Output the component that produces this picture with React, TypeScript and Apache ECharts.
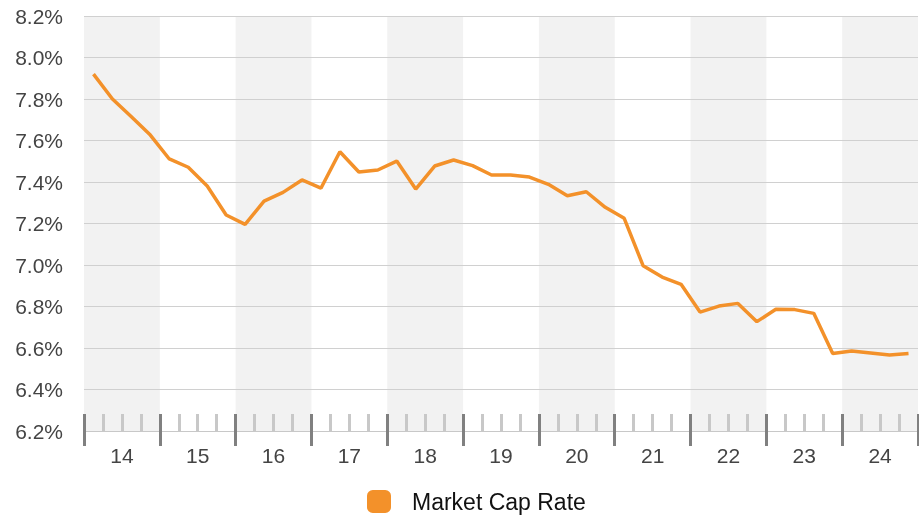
import React, { useEffect, useRef } from "react";
import * as echarts from "echarts";

const years = ["14", "15", "16", "17", "18", "19", "20", "21", "22", "23", "24"];
const quarters: string[] = [];
years.forEach((y) => ["Q1", "Q2", "Q3", "Q4"].forEach((q) => quarters.push(y + q)));

const capRate = [
  7.92, 7.8, 7.714, 7.626, 7.511, 7.471, 7.381, 7.241,
  7.196, 7.308, 7.35, 7.41, 7.37, 7.546, 7.448, 7.458,
  7.501, 7.366, 7.477, 7.506, 7.479, 7.434, 7.434, 7.424,
  7.389, 7.334, 7.353, 7.278, 7.225, 6.996, 6.942, 6.907,
  6.773, 6.802, 6.815, 6.727, 6.787, 6.785, 6.767, 6.574,
  6.586, 6.576, 6.566, 6.573,
];

const yMin = 6.2;
const yMax = 8.2;
const yStep = 0.2;

const FONT = "Liberation Sans, Arial, Helvetica, sans-serif";

export default function App() {
  const ref = useRef<HTMLDivElement>(null);
  useEffect(() => {
    if (!ref.current) return;
    const chart = echarts.init(ref.current, undefined, { renderer: "svg" });
    chart.setOption({
      animation: false,
      textStyle: { fontFamily: FONT },
      grid: { left: 84, right: 1, top: 16, bottom: 87, outerBoundsMode: "none" },
      legend: {
        data: ["Market Cap Rate"],
        left: 367,
        top: 490,
        padding: 0,
        icon: "roundRect",
        itemWidth: 24,
        itemHeight: 23,
        textStyle: { fontSize: 23, color: "#111", fontFamily: FONT, padding: [0, 0, 0, 16] },
      },
      xAxis: [
        {
          type: "category",
          position: "bottom",
          data: quarters,
          boundaryGap: true,
          z: 3,
          axisLine: { show: true, lineStyle: { color: "#c8c8c8", width: 1 } },
          axisTick: {
            show: true,
            inside: true,
            length: 17,
            interval: (i: number) => i % 4 !== 0,
            lineStyle: { color: "#c8c8c8", width: 3 },
          },
          axisLabel: { show: false },
          splitLine: { show: false },
        },
        {
          type: "category",
          position: "bottom",
          data: years,
          boundaryGap: true,
          z: 0,
          axisLine: { show: false },
          axisTick: { show: false },
          axisLabel: { show: false },
          splitLine: { show: false },
          splitArea: {
            show: true,
            interval: 0,
            areaStyle: { color: ["#f2f2f2", "rgba(255,255,255,0)"] },
          },
        },
        {
          type: "category",
          position: "bottom",
          data: years,
          boundaryGap: true,
          z: 4,
          axisLine: { show: false },
          axisTick: {
            show: true,
            inside: true,
            length: 17,
            interval: 0,
            lineStyle: { color: "#808080", width: 3 },
          },
          axisLabel: { show: false },
          splitLine: { show: false },
        },
        {
          type: "category",
          position: "bottom",
          data: years,
          boundaryGap: true,
          z: 4,
          axisLine: { show: false },
          axisTick: {
            show: true,
            inside: false,
            length: 15,
            interval: 0,
            lineStyle: { color: "#808080", width: 3 },
          },
          axisLabel: {
            show: true,
            interval: 0,
            margin: 14,
            fontSize: 21,
            color: "#444",
            fontFamily: FONT,
          },
          splitLine: { show: false },
        },
      ],
      yAxis: {
        type: "value",
        min: yMin,
        max: yMax,
        interval: yStep,
        z: 1,
        axisLine: { show: false },
        axisTick: { show: false },
        axisLabel: {
          margin: 21,
          fontSize: 21,
          color: "#444",
          fontFamily: FONT,
          formatter: (v: number) => v.toFixed(1) + "%",
        },
        splitLine: { show: true, lineStyle: { color: "#d0d0d0", width: 1 } },
      },
      series: [
        {
          name: "Market Cap Rate",
          type: "line",
          xAxisIndex: 0,
          data: capRate,
          z: 10,
          symbol: "none",
          showSymbol: false,
          lineStyle: { color: "#F3912A", width: 3.5 },
          itemStyle: { color: "#F3912A" },
        },
      ],
    });
    return () => chart.dispose();
  }, []);
  return (
    <div
      ref={ref}
      style={{ position: "fixed", left: 0, top: 0, width: 919, height: 518 }}
    />
  );
}
